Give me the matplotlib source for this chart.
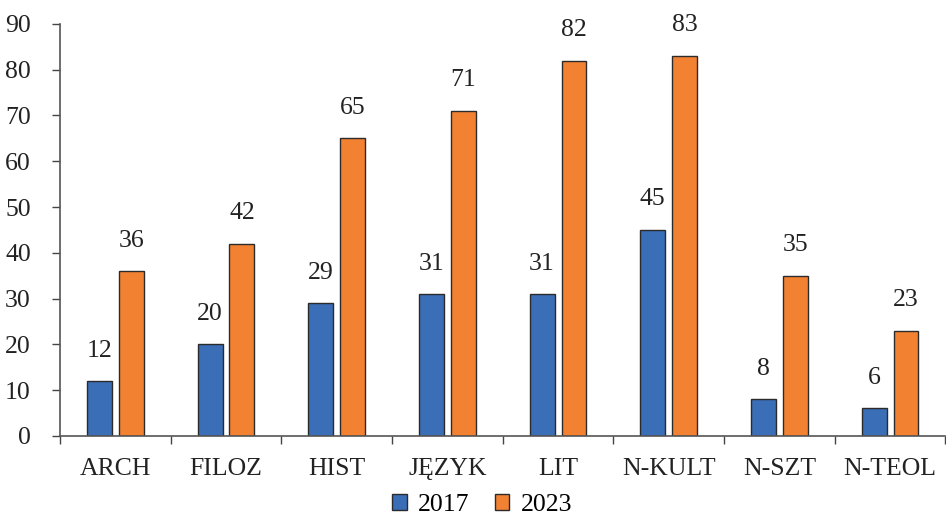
import numpy as np
import matplotlib.pyplot as plt
from matplotlib.patches import Patch

categories = ["ARCH", "FILOZ", "HIST", "JĘZYK", "LIT", "N-KULT", "N-SZT", "N-TEOL"]
values_2017 = [12, 20, 29, 31, 31, 45, 8, 6]
values_2023 = [36, 42, 65, 71, 82, 83, 35, 23]
series_labels = ["2017", "2023"]
y_ticks = list(range(0, 100, 10))

BLUE = "#3A6EB7"
ORANGE = "#F28232"
EDGE = "#2b2b2b"

plt.rcParams["font.family"] = ["Liberation Serif", "DejaVu Serif"]

fig = plt.figure(figsize=(9.46, 5.19), dpi=100)
ax = fig.add_axes([0.0634, 0.160, 0.936, 0.794])

x = np.arange(len(categories))
width = 0.225
offset = 0.144

b1 = ax.bar(x - offset, values_2017, width, color=BLUE, edgecolor=EDGE, linewidth=1.0)
b2 = ax.bar(x + offset, values_2023, width, color=ORANGE, edgecolor=EDGE, linewidth=1.0)

for bars, vals in ((b1, values_2017), (b2, values_2023)):
    for rect, v in zip(bars, vals):
        ax.annotate(str(v), (rect.get_x() + rect.get_width() / 2, v),
                    xytext=(0, 14), textcoords="offset points",
                    ha="center", va="bottom", fontsize=18.5, color="#222222")

ax.set_xlim(-0.5, len(categories) - 0.5)
ax.set_ylim(0, 90)
ax.set_yticks(y_ticks)
ax.tick_params(axis="y", length=6, width=1, pad=15, labelsize=18.5, colors="#444444", labelcolor="#222222")

# category boundaries as major ticks, labels at the centres
ax.set_xticks(np.arange(-0.5, len(categories), 1))
ax.set_xticklabels([])
ax.set_xticks(x, minor=True)
ax.set_xticklabels(categories, minor=True)
ax.tick_params(axis="x", which="major", length=6, width=1, colors="#444444")
ax.tick_params(axis="x", which="minor", length=0, pad=16, labelsize=18.5, labelcolor="#222222")

for s in ("top", "right"):
    ax.spines[s].set_visible(False)
for s in ("left", "bottom"):
    ax.spines[s].set_color("#555555")
    ax.spines[s].set_linewidth(1.2)

handles = [Patch(facecolor=BLUE, edgecolor=EDGE, label=series_labels[0]),
           Patch(facecolor=ORANGE, edgecolor=EDGE, label=series_labels[1])]
fig.legend(handles=handles, loc="center", bbox_to_anchor=(0.51, 0.027), ncol=2,
           frameon=False, fontsize=18.5, handlelength=0.55, handleheight=0.55,
           handletextpad=0.45, columnspacing=1.0)

fig.savefig("out.png", dpi=100)
